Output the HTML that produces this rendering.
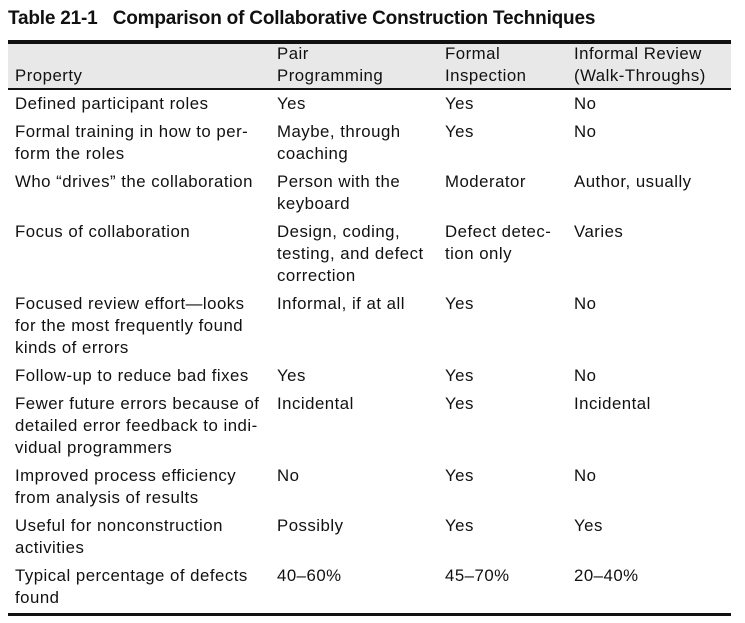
<!DOCTYPE html>
<html><head><meta charset="utf-8"><style>
body{margin:0;width:745px;height:623px;background:#fff;position:relative;overflow:hidden;font-family:"Liberation Sans",sans-serif;color:#111}
.t{position:absolute;font-size:16.8px;line-height:22px;white-space:nowrap;letter-spacing:0.5px}
.title{position:absolute;left:8px;top:8px;font-size:19px;font-weight:bold;letter-spacing:-0.2px}
.rule{position:absolute;left:8px;width:723px;background:#111}
.hdr{position:absolute;left:8px;top:44px;width:723px;height:44px;background:#e8e8e8}
</style></head><body>
<div class="title">Table 21-1&nbsp;&nbsp; Comparison of Collaborative Construction Techniques</div>
<div class="rule" style="top:40px;height:4px"></div>
<div class="hdr"></div>
<div class="rule" style="top:88px;height:1.5px"></div>
<div class="rule" style="top:613px;height:3px"></div>
<div id="tbl"></div>
<script>
const cols=[15,277,445,574];
const header=["Property","Pair\nProgramming","Formal\nInspection","Informal Review\n(Walk-Throughs)"];
const rows=[
["Defined participant roles","Yes","Yes","No"],
["Formal training in how to per-\nform the roles","Maybe, through\ncoaching","Yes","No"],
["Who “drives” the collaboration","Person with the\nkeyboard","Moderator","Author, usually"],
["Focus of collaboration","Design, coding,\ntesting, and defect\ncorrection","Defect detec-\ntion only","Varies"],
["Focused review effort—looks\nfor the most frequently found\nkinds of errors","Informal, if at all","Yes","No"],
["Follow-up to reduce bad fixes","Yes","Yes","No"],
["Fewer future errors because of\ndetailed error feedback to indi-\nvidual programmers","Incidental","Yes","Incidental"],
["Improved process efficiency\nfrom analysis of results","No","Yes","No"],
["Useful for nonconstruction\nactivities","Possibly","Yes","Yes"],
["Typical percentage of defects\nfound","40–60%","45–70%","20–40%"]];
const tb=document.getElementById('tbl');
function cell(txt,x,y,name){const d=document.createElement('div');d.className='t';d.style.left=x+'px';d.style.top=y+'px';d.innerHTML=txt.split('\n').join('<br>');


tb.appendChild(d);}
header.forEach((h,i)=>{const n=h.split('\n').length;cell(h,cols[i],87-n*22,'header-cell');});
let y=93;
rows.forEach((r)=>{let m=1;r.forEach((c,i)=>{m=Math.max(m,c.split('\n').length);cell(c,cols[i],y,'table-cell');});y+=m*22+6;});
</script>
</body></html>
